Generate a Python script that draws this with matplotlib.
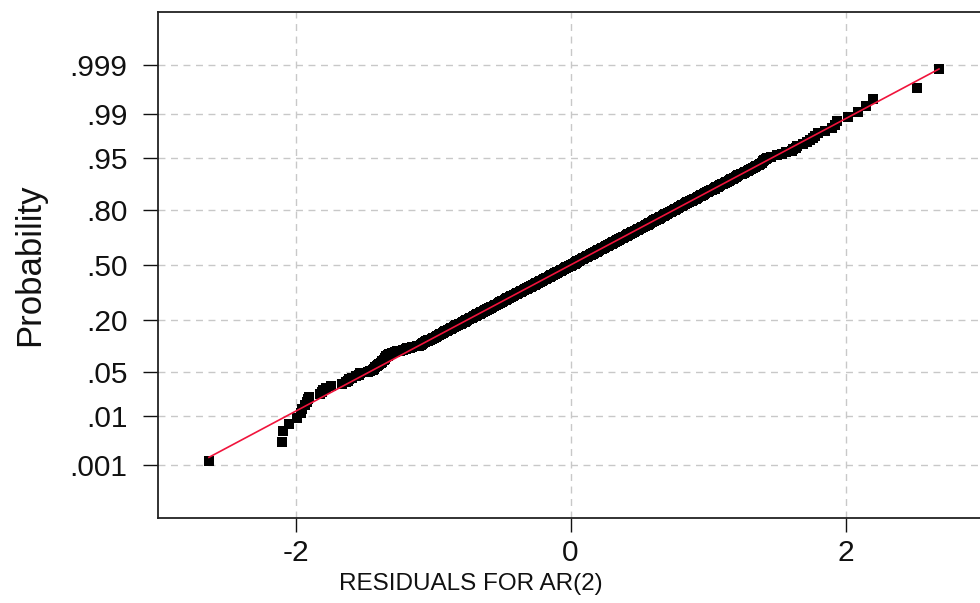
import matplotlib
matplotlib.use('Agg')
import matplotlib.pyplot as plt
import numpy as np
from statistics import NormalDist

plt.rcParams['font.family'] = ['Liberation Sans', 'DejaVu Sans']
plt.rcParams['axes.unicode_minus'] = False

# sorted residuals (lower tail, body, upper tail)
resid_lower = [-2.63, -2.10, -2.09, -2.05, -1.99, -1.96, -1.95, -1.93, -1.92, -1.91,
               -1.90, -1.82, -1.81, -1.80, -1.78, -1.74, -1.66, -1.63, -1.62, -1.61,
               -1.59, -1.56, -1.54, -1.53, -1.47, -1.46, -1.44, -1.43, -1.42, -1.41,
               -1.40, -1.39, -1.38, -1.37, -1.37, -1.36, -1.35, -1.35, -1.34, -1.34,
               -1.33, -1.33, -1.32, -1.30, -1.28, -1.26, -1.24, -1.22, -1.20, -1.19,
               -1.17, -1.15, -1.12, -1.10]

resid_body = [
    -1.09, -1.08, -1.07, -1.07, -1.06, -1.05, -1.04, -1.04, -1.02, -1.01, -1.00,
    -0.99, -0.98, -0.98, -0.97, -0.96, -0.96, -0.95, -0.94, -0.93, -0.92, -0.92, -0.91, -0.90,
    -0.89, -0.89, -0.88, -0.87, -0.87, -0.86, -0.85, -0.85, -0.84, -0.83, -0.83, -0.82, -0.81, -0.80,
    -0.79, -0.79, -0.78, -0.77, -0.77, -0.76, -0.76, -0.75, -0.74, -0.74, -0.73, -0.72, -0.72,
    -0.71, -0.71, -0.70,
    -0.69, -0.69, -0.68, -0.68, -0.67, -0.66, -0.66, -0.65, -0.65, -0.64, -0.63, -0.63, -0.62,
    -0.62, -0.61, -0.61, -0.60,
    -0.59, -0.59, -0.58, -0.58, -0.57, -0.57, -0.56, -0.56, -0.55, -0.55, -0.54, -0.53, -0.53,
    -0.52, -0.52, -0.51, -0.51, -0.50, -0.50,
    -0.49, -0.49, -0.48, -0.48, -0.47, -0.47, -0.46, -0.46, -0.45, -0.45, -0.44, -0.44, -0.43,
    -0.43, -0.42, -0.42, -0.41, -0.41, -0.40, -0.40,
    -0.39, -0.39, -0.38, -0.38, -0.37, -0.37, -0.36, -0.36, -0.35, -0.35, -0.34, -0.34, -0.33,
    -0.33, -0.32, -0.32, -0.31, -0.31, -0.30, -0.30,
    -0.29, -0.29, -0.28, -0.28, -0.27, -0.27, -0.26, -0.26, -0.25, -0.25, -0.25, -0.24, -0.24,
    -0.23, -0.23, -0.22, -0.22, -0.21, -0.21, -0.20, -0.20, -0.20,
    -0.19, -0.19, -0.18, -0.18, -0.17, -0.17, -0.16, -0.16, -0.15, -0.15, -0.15, -0.14, -0.14,
    -0.13, -0.13, -0.12, -0.12, -0.11, -0.11, -0.10, -0.10, -0.10,
    -0.09, -0.09, -0.08, -0.08, -0.07, -0.07, -0.06, -0.06, -0.05, -0.05, -0.05, -0.04, -0.04,
    -0.03, -0.03, -0.02, -0.02, -0.01, -0.01, 0.00, 0.00, 0.00,
    0.01, 0.01, 0.02, 0.02, 0.03, 0.03, 0.03, 0.04, 0.04, 0.05, 0.05, 0.05, 0.06, 0.06,
    0.07, 0.07, 0.07, 0.08, 0.08, 0.09, 0.09, 0.10, 0.10,
    0.11, 0.11, 0.12, 0.12, 0.13, 0.13, 0.14, 0.14, 0.15, 0.15, 0.15, 0.16, 0.16, 0.17,
    0.17, 0.18, 0.18, 0.19, 0.19, 0.20, 0.20, 0.20,
    0.21, 0.21, 0.22, 0.22, 0.23, 0.23, 0.24, 0.24, 0.25, 0.25, 0.25, 0.26, 0.26, 0.27,
    0.27, 0.28, 0.28, 0.29, 0.29, 0.30, 0.30, 0.30,
    0.31, 0.31, 0.32, 0.32, 0.33, 0.33, 0.34, 0.34, 0.35, 0.35, 0.36, 0.36, 0.37, 0.37,
    0.38, 0.38, 0.39, 0.39, 0.40, 0.40,
    0.41, 0.41, 0.42, 0.42, 0.43, 0.43, 0.44, 0.44, 0.45, 0.45, 0.46, 0.46, 0.47, 0.47,
    0.48, 0.48, 0.49, 0.49, 0.50, 0.50,
    0.51, 0.51, 0.52, 0.52, 0.53, 0.54, 0.54, 0.55, 0.55, 0.56, 0.56, 0.57, 0.57, 0.58,
    0.58, 0.59, 0.59, 0.60, 0.60,
    0.61, 0.61, 0.62, 0.62, 0.63, 0.64, 0.64, 0.65, 0.65, 0.66, 0.67, 0.67, 0.68, 0.68,
    0.69, 0.69, 0.70,
    0.71, 0.71, 0.72, 0.73, 0.73, 0.74, 0.74, 0.75, 0.76, 0.76, 0.77, 0.78, 0.78, 0.79,
    0.79, 0.80,
    0.81, 0.81, 0.82, 0.83, 0.83, 0.84, 0.85, 0.85, 0.86, 0.87, 0.88, 0.88, 0.89, 0.90,
    0.91, 0.92, 0.92, 0.93, 0.94, 0.95, 0.95, 0.96, 0.97, 0.98, 0.98, 0.99, 1.00,
    1.01, 1.02, 1.03, 1.04, 1.05, 1.05, 1.06, 1.07, 1.08, 1.09, 1.10,
    1.11, 1.12, 1.13, 1.14, 1.15, 1.16, 1.17, 1.18, 1.19, 1.20,
    1.21, 1.22, 1.24, 1.25, 1.26, 1.27, 1.29, 1.30,
    1.31, 1.33, 1.34, 1.35, 1.37, 1.38, 1.39,
    1.40, 1.41, 1.42]

resid_upper = [1.43, 1.46, 1.50, 1.54, 1.57, 1.61, 1.62, 1.64, 1.65, 1.69,
               1.72, 1.74, 1.76, 1.78, 1.80, 1.85, 1.90, 1.92, 1.94, 2.02,
               2.09, 2.15, 2.20, 2.52, 2.68]

# fitted normal line
fit_mean = 0.0
fit_sd = 0.887

prob_ticks = [0.001, 0.01, 0.05, 0.20, 0.50, 0.80, 0.95, 0.99, 0.999]
prob_labels = ['.001', '.01', '.05', '.20', '.50', '.80', '.95', '.99', '.999']
x_ticks = [-2, 0, 2]
x_labels = ['-2', '0', '2']

nd = NormalDist()
resid = np.sort(np.array(resid_lower + resid_body + resid_upper))
n = len(resid)
# Blom plotting positions on a normal probability scale
z = np.array([nd.inv_cdf((i - 0.375) / (n + 0.25)) for i in range(1, n + 1)])

fig = plt.figure(figsize=(9.8, 6.03), dpi=100)
ax = fig.add_axes([158 / 980, 1 - 518 / 603, 825 / 980, 506 / 603])
ax.set_xlim(-3.0, 3.0)
ax.set_ylim(-3.9, 3.9)

ax.grid(True, linestyle=(0, (5, 4)), color='#c8c8c8', linewidth=1)
ax.set_axisbelow(True)

ax.plot(resid, z, 's', color='black', ms=7.5, mew=0, zorder=2)
xl = np.array([resid.min(), resid.max()])
ax.plot(xl, (xl - fit_mean) / fit_sd, color='#f0143c', lw=1.2, zorder=3)

ax.set_yticks([nd.inv_cdf(p) for p in prob_ticks])
ax.set_yticklabels(prob_labels)
ax.set_xticks(x_ticks)
ax.set_xticklabels(x_labels)
ax.tick_params(axis='y', length=11, width=1, pad=11, labelsize=21.5, colors='#111111')
ax.tick_params(axis='x', length=10, width=1, pad=5, labelsize=21.5, colors='#111111')

for s in ['left', 'bottom', 'top']:
    ax.spines[s].set_linewidth(1.3)
    ax.spines[s].set_color('#222222')
ax.spines['right'].set_visible(False)

fig.text(471 / 980, 1 - 584 / 603, 'RESIDUALS FOR AR(2)', ha='center', va='center',
         fontsize=17.5, color='#111111')
fig.text(30 / 980, 1 - 265 / 603, 'Probability', ha='center', va='center',
         rotation=90, fontsize=25, color='#111111')

fig.savefig('out.png', dpi=100)
